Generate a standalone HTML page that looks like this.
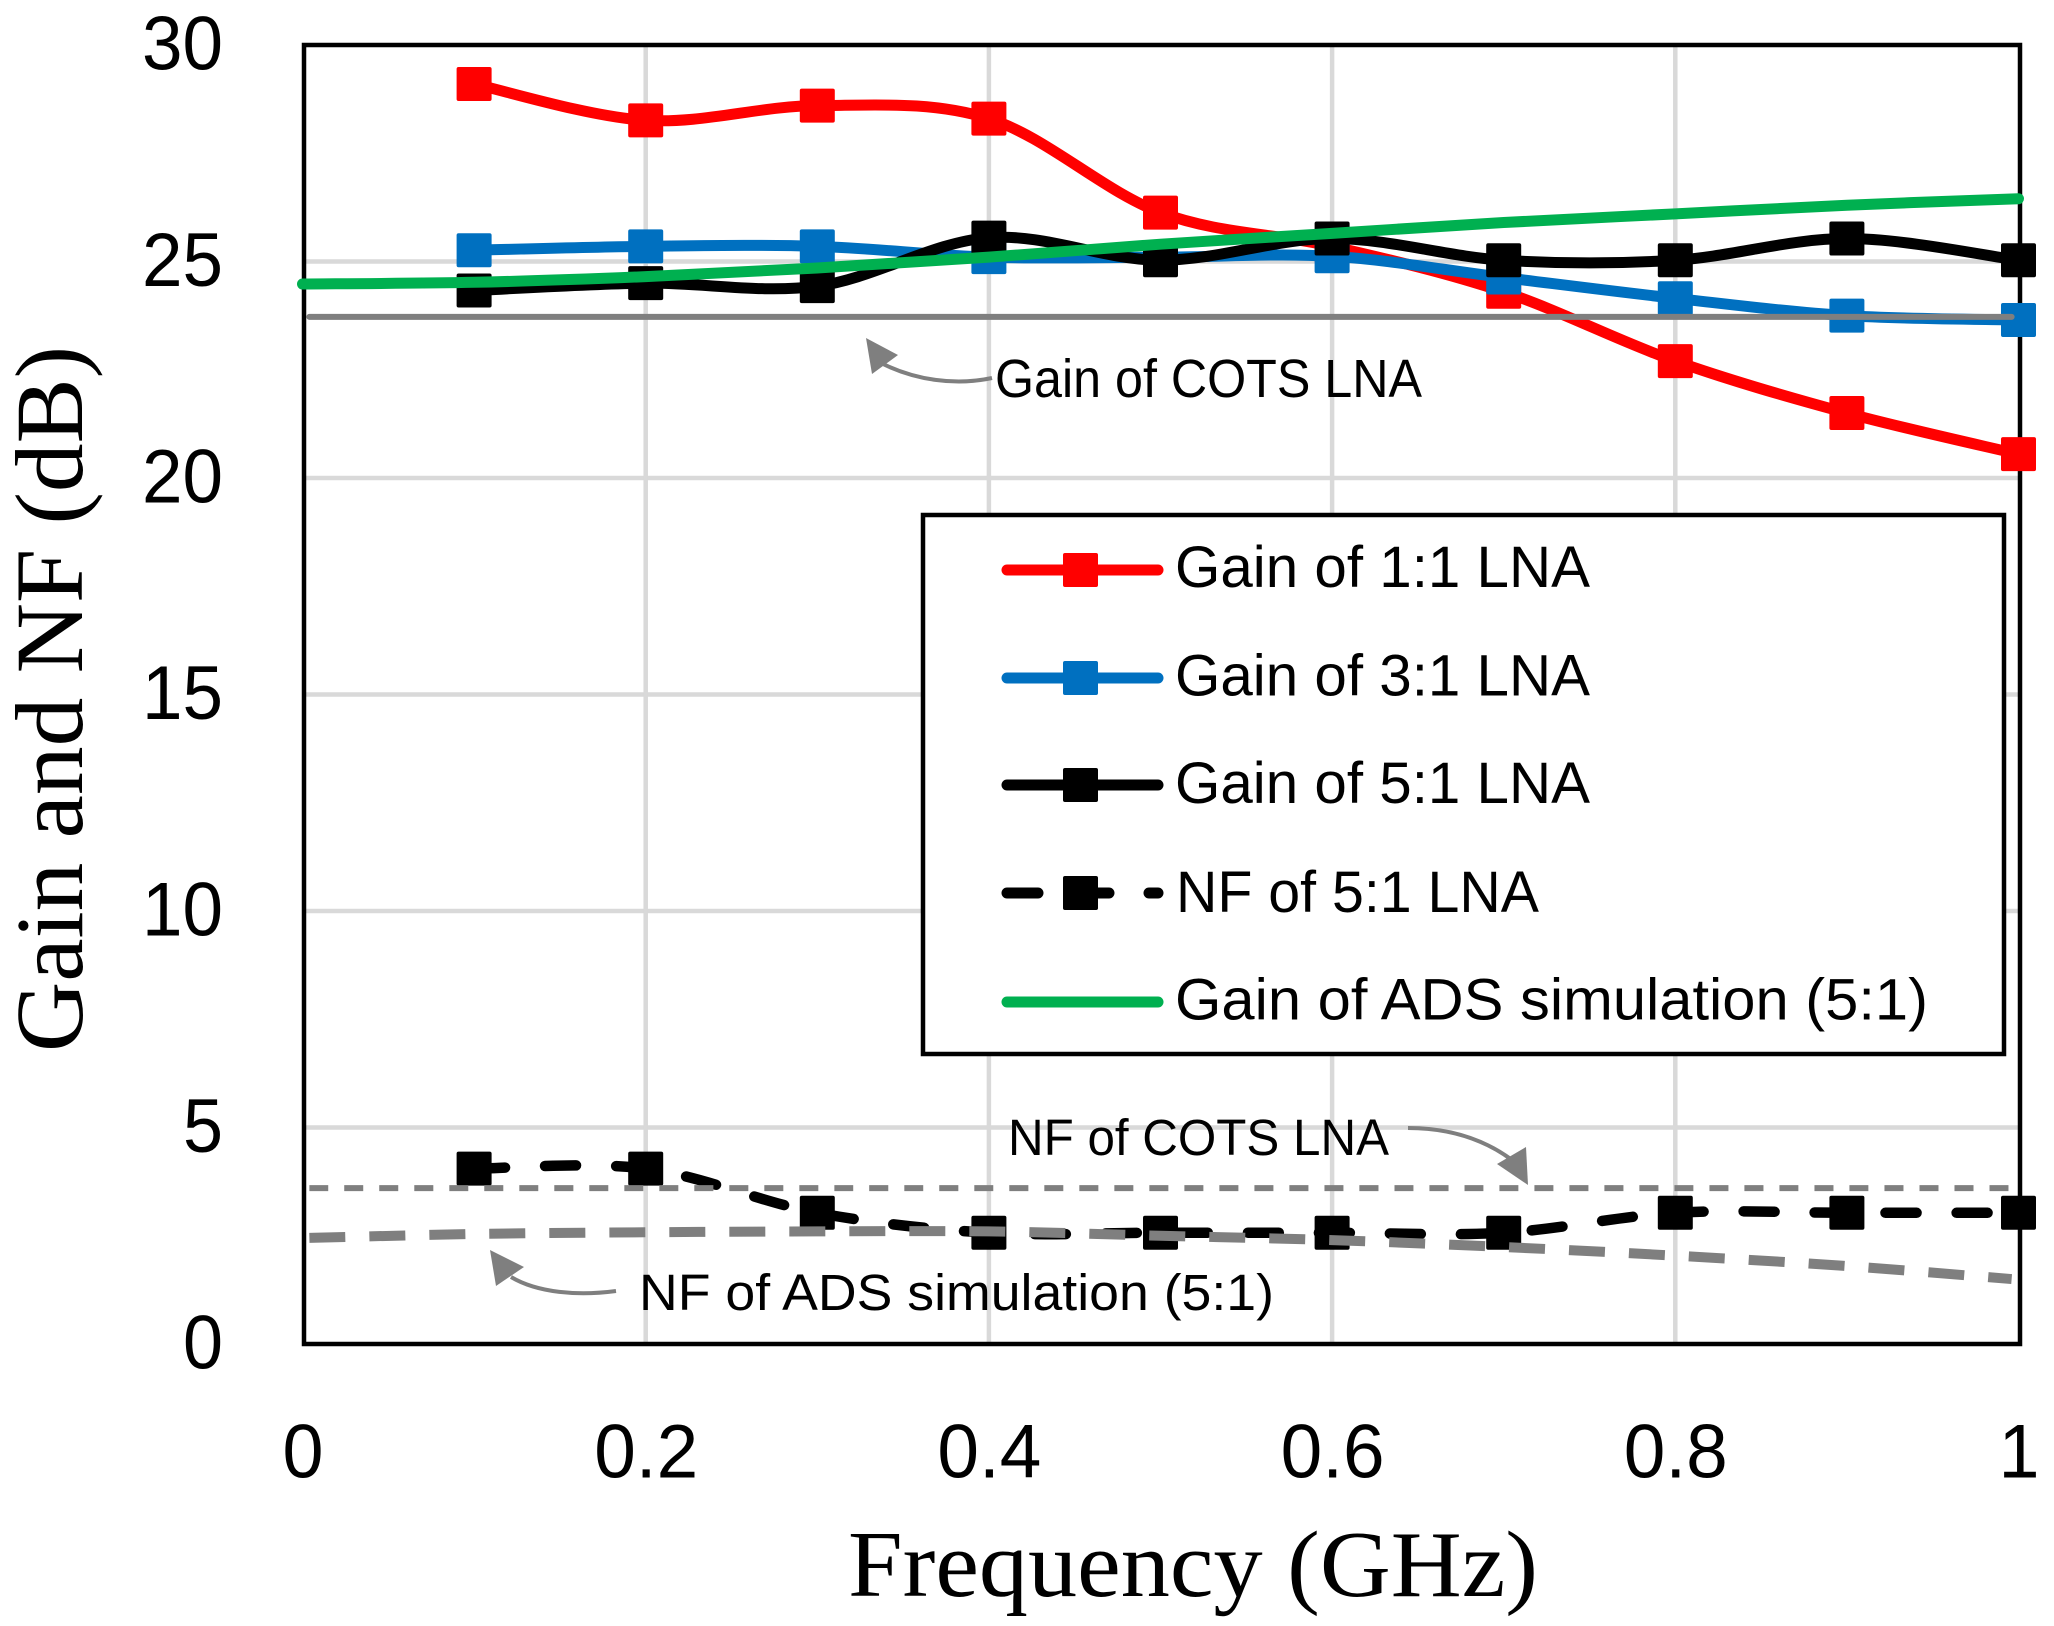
<!DOCTYPE html>
<html>
<head>
<meta charset="utf-8">
<title>Gain and NF vs Frequency</title>
<style>
html,body{margin:0;padding:0;background:#fff;}
svg{display:block;}
text{fill:#000;}
.s{font-family:"Liberation Sans",sans-serif;}
.r{font-family:"Liberation Serif",serif;}
</style>
</head>
<body>
<svg id="chart" xmlns="http://www.w3.org/2000/svg" width="2054" height="1626" viewBox="0 0 2054 1626">
  <g id="grid"></g>
  <rect x="304" y="45" width="1716" height="1299" fill="none" stroke="#000" stroke-width="4.5"/>
  <g id="series"></g>
  <g id="ticks"></g>

  <text class="r" x="848" y="1596" font-size="94" textLength="690" lengthAdjust="spacingAndGlyphs">Frequency (GHz)</text>
  <text class="r" transform="translate(82,1052) rotate(-90)" x="0" y="0" font-size="96" textLength="706" lengthAdjust="spacingAndGlyphs">Gain and NF (dB)</text>

  <g>
    <path d="M992 378 C955 386 915 380 881 363" fill="none" stroke="#7f7f7f" stroke-width="4"/>
    <polygon points="866,338 898,355 872,374" fill="#7f7f7f"/>
    <text class="s" x="995" y="397" font-size="54" textLength="427" lengthAdjust="spacingAndGlyphs">Gain of COTS LNA</text>
  </g>
  <g>
    <path d="M1408 1128 C1450 1128 1485 1140 1512 1160" fill="none" stroke="#7f7f7f" stroke-width="4"/>
    <polygon points="1528,1185 1497,1164 1526,1147" fill="#7f7f7f"/>
    <text class="s" x="1008" y="1155" font-size="51" textLength="381" lengthAdjust="spacingAndGlyphs">NF of COTS LNA</text>
  </g>
  <g>
    <path d="M616 1291 C578 1296 538 1293 511 1277" fill="none" stroke="#7f7f7f" stroke-width="4"/>
    <polygon points="490,1250 524,1267 496,1286" fill="#7f7f7f"/>
    <text class="s" x="639" y="1310" font-size="51" textLength="635" lengthAdjust="spacingAndGlyphs">NF of ADS simulation (5:1)</text>
  </g>

  <g>
    <rect x="923" y="515" width="1081" height="539" fill="#fff" stroke="#000" stroke-width="4.5"/>
    <g>
      <line x1="1007" x2="1158" y1="570" y2="570" stroke="#ff0000" stroke-width="11" stroke-linecap="round"/>
      <rect x="1063" y="553" width="35" height="34" rx="2" fill="#ff0000"/>
      <text class="s" x="1175" y="587" font-size="58" textLength="415" lengthAdjust="spacingAndGlyphs">Gain of 1:1 LNA</text>
    </g>
    <g>
      <line x1="1007" x2="1158" y1="678" y2="678" stroke="#0070c0" stroke-width="11" stroke-linecap="round"/>
      <rect x="1063" y="661" width="35" height="34" rx="2" fill="#0070c0"/>
      <text class="s" x="1175" y="695.5" font-size="58" textLength="415" lengthAdjust="spacingAndGlyphs">Gain of 3:1 LNA</text>
    </g>
    <g>
      <line x1="1007" x2="1158" y1="785" y2="785" stroke="#000" stroke-width="11" stroke-linecap="round"/>
      <rect x="1063" y="768" width="35" height="34" rx="2" fill="#000"/>
      <text class="s" x="1175" y="803" font-size="58" textLength="415" lengthAdjust="spacingAndGlyphs">Gain of 5:1 LNA</text>
    </g>
    <g>
      <line x1="1007" x2="1158" y1="893" y2="893" stroke="#000" stroke-width="11" stroke-linecap="round" stroke-dasharray="31 40"/>
      <rect x="1063" y="876" width="35" height="34" rx="2" fill="#000"/>
      <text class="s" x="1176" y="912" font-size="58" textLength="363" lengthAdjust="spacingAndGlyphs">NF of 5:1 LNA</text>
    </g>
    <g>
      <line x1="1007" x2="1158" y1="1002" y2="1002" stroke="#00b050" stroke-width="11" stroke-linecap="round"/>
      <text class="s" x="1175" y="1019.5" font-size="58" textLength="753" lengthAdjust="spacingAndGlyphs">Gain of ADS simulation (5:1)</text>
    </g>
  </g>
</svg>
<script>
var freqs = [0.1, 0.2, 0.3, 0.4, 0.5, 0.6, 0.7, 0.8, 0.9, 1.0];
var simFreqs = [0, 0.1, 0.2, 0.3, 0.4, 0.5, 0.6, 0.7, 0.8, 0.9, 1.0];
var gain11 = [29.1, 28.26, 28.6, 28.3, 26.13, 25.35, 24.3, 22.7, 21.5, 20.55];
var gain31 = [25.26, 25.35, 25.35, 25.1, 25.1, 25.12, 24.63, 24.15, 23.75, 23.65];
var gain51 = [24.33, 24.5, 24.43, 25.55, 25.03, 25.53, 25.03, 25.03, 25.53, 25.03];
var nf51 = [4.05, 4.05, 3.03, 2.57, 2.57, 2.57, 2.57, 3.03, 3.03, 3.03];
var gainAds = [24.48, 24.52, 24.65, 24.85, 25.1, 25.4, 25.65, 25.9, 26.1, 26.3, 26.45];
var nfAds = [2.45, 2.54, 2.58, 2.6, 2.6, 2.5, 2.4, 2.24, 2.04, 1.8, 1.5];
var nfAdsFreqs = [0.004, 0.1, 0.2, 0.3, 0.4, 0.5, 0.6, 0.7, 0.8, 0.9, 0.996];
var cotsFreqs = [0.004, 0.996];
var gainCots = [23.72, 23.72];
var nfCots = [3.6, 3.6];
var yTicks = [0, 5, 10, 15, 20, 25, 30];
var xTicks = [0, 0.2, 0.4, 0.6, 0.8, 1];
var xTickLabels = ['0', '0.2', '0.4', '0.6', '0.8', '1'];

function xScale(v) { return 302.5 + 1716 * v; }
function yScale(v) { return 1344 - 43.3 * v; }

var NS = 'http://www.w3.org/2000/svg';
function make(tag, parent, attrs) {
  var el = document.createElementNS(NS, tag);
  for (var k in attrs) { el.setAttribute(k, attrs[k]); }
  parent.appendChild(el);
  return el;
}

function smoothPath(xs, ys) {
  var pts = xs.map(function (x, i) { return [xScale(x), yScale(ys[i])]; });
  var d = 'M' + pts[0][0] + ' ' + pts[0][1];
  for (var i = 0; i < pts.length - 1; i++) {
    var p0 = pts[Math.max(i - 1, 0)];
    var p1 = pts[i];
    var p2 = pts[i + 1];
    var p3 = pts[Math.min(i + 2, pts.length - 1)];
    var c1x = p1[0] + (p2[0] - p0[0]) / 6;
    var c1y = p1[1] + (p2[1] - p0[1]) / 6;
    var c2x = p2[0] - (p3[0] - p1[0]) / 6;
    var c2y = p2[1] - (p3[1] - p1[1]) / 6;
    d += ' C' + c1x + ' ' + c1y + ' ' + c2x + ' ' + c2y + ' ' + p2[0] + ' ' + p2[1];
  }
  return d;
}

var gridLayer = document.getElementById('grid');
yTicks.forEach(function (t) {
  if (t === 0 || t === 30) { return; }
  var el = make('line', gridLayer, { x1: 304, x2: 2020, y1: yScale(t), y2: yScale(t), stroke: '#d9d9d9', 'stroke-width': 4.5 });
  
  
});
xTicks.forEach(function (t) {
  if (t === 0 || t === 1) { return; }
  var el = make('line', gridLayer, { x1: xScale(t), x2: xScale(t), y1: 45, y2: 1344, stroke: '#d9d9d9', 'stroke-width': 4.5 });
  
  
});

var seriesLayer = document.getElementById('series');

function drawSeries(name, xs, ys, color, width, dash, markers) {
  var g = make('g', seriesLayer, {});
  
  
  var attrs = { d: smoothPath(xs, ys), fill: 'none', stroke: color, 'stroke-width': width, 'stroke-linecap': 'round' };
  if (dash) { attrs['stroke-dasharray'] = dash; }
  if (dash && !markers) { attrs['stroke-linecap'] = 'butt'; }
  var line = make('path', g, attrs);
  
  
  if (markers) {
    xs.forEach(function (x, i) {
      var m = make('rect', g, { x: xScale(x) - 17.5, y: yScale(ys[i]) - 17, width: 35, height: 34, rx: 2, fill: color });
      
      
    });
  }
}

drawSeries('gain-1-1-lna', freqs, gain11, '#ff0000', 11, null, true);
drawSeries('gain-3-1-lna', freqs, gain31, '#0070c0', 11, null, true);
drawSeries('gain-5-1-lna', freqs, gain51, '#000000', 11, null, true);
drawSeries('nf-5-1-lna', freqs, nf51, '#000000', 10.5, '31 40', true);
drawSeries('gain-ads-simulation', simFreqs, gainAds, '#00b050', 11, null, false);
drawSeries('gain-cots-lna', cotsFreqs, gainCots, '#7f7f7f', 6, null, false);
drawSeries('nf-cots-lna', cotsFreqs, nfCots, '#7f7f7f', 6, '19 16', false);
drawSeries('nf-ads-simulation', nfAdsFreqs, nfAds, '#7f7f7f', 10, '36 24', false);

var tickLayer = document.getElementById('ticks');
yTicks.forEach(function (t) {
  var label = String(t);
  var el = make('text', tickLayer, { x: 223, y: yScale(t) + 24.5, 'font-size': 76, 'text-anchor': 'end', textLength: label.length > 1 ? 81 : 40, lengthAdjust: 'spacingAndGlyphs', 'class': 's' });
  el.textContent = label;
  
  
});
xTicks.forEach(function (t, i) {
  var label = xTickLabels[i];
  var el = make('text', tickLayer, { x: xScale(t) + 0.5, y: 1477.5, 'font-size': 76, 'text-anchor': 'middle', textLength: label.length > 1 ? 104 : 41, lengthAdjust: 'spacingAndGlyphs', 'class': 's' });
  el.textContent = label;
  
  
});
</script>
</body>
</html>
